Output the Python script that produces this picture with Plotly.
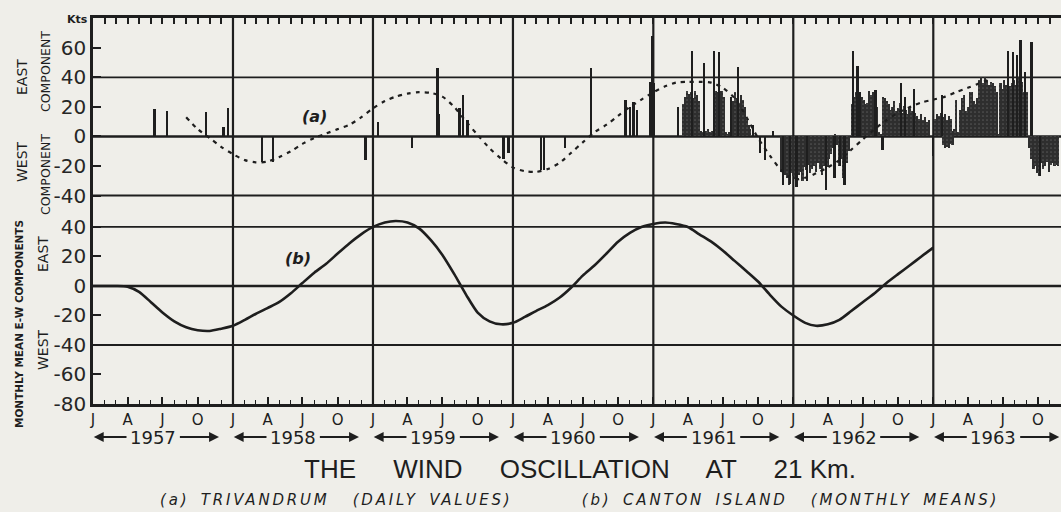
import pandas as pd
import plotly.graph_objects as go
from plotly.subplots import make_subplots

INK = "#1e1e1e"
BG = "#efeee9"

# ---------------- data ----------------
# (b) Canton Island monthly means (kts), monthly from Jan 1957
canton_start = "1957-01-01"
canton_kts = [0, 0, 0, -0.5, -4, -11, -18, -24, -28, -30, -30.5, -29,
              -27, -23, -19, -15, -11, -5, 2, 9, 15, 22, 29, 35,
              40, 43, 44, 43, 39, 31, 21, 8, -6, -18, -24, -26,
              -25, -21, -17, -13, -8, -1, 7, 14, 22, 30, 36, 40,
              42, 43, 42, 40, 35, 30, 24, 17, 10, 3, -6, -14,
              -20, -25, -27, -26, -23, -17, -11, -5, 2, 8, 14, 20,
              26]

# (a) smoothed Trivandrum curve (dashed), monthly from Sep 1957
trend_start = "1957-09-01"
trend_kts = [13, 5, -1, -7, -12, -16, -17.5, -17, -14, -10,
             -5, -1, 2, 5, 8, 13, 19, 24, 27, 29,
             30, 29.5, 27, 20, 10, 1, -8, -15, -21, -23.5,
             -24, -22, -18, -11, -4, 3, 8, 14, 20, 25,
             30, 34, 36.5, 37, 37, 36.5, 33, 26, 13, -1,
             -13, -23, -29, -28, -25, -21, -16, -9, -2, 5,
             11, 16, 20, 23, 25, 27, 30, 33, 36, 39]

# (a) Trivandrum daily values: isolated days
spike_dates = ["1957-06-11", "1957-07-14", "1957-10-23", "1957-12-08", "1957-12-19",
               "1958-03-18", "1958-04-15", "1958-12-13",
               "1959-01-15", "1959-04-13", "1959-06-19", "1959-06-22", "1959-08-15",
               "1959-08-25", "1959-09-05", "1959-12-08", "1959-12-21",
               "1960-03-15", "1960-03-23", "1960-05-16", "1960-07-23", "1960-10-21",
               "1960-11-01", "1960-11-11", "1960-11-20", "1960-12-25", "1960-12-30", "1961-01-03",
               "1961-03-07", "1961-04-13", "1961-05-14", "1961-06-08", "1961-06-21",
               "1961-07-24", "1961-08-10", "1961-09-19", "1961-10-06", "1961-10-19", "1961-11-10",
               "1961-12-06", "1961-12-24", "1962-01-10", "1962-02-06", "1962-03-28",
               "1962-04-19", "1962-05-04", "1962-05-15",
               "1962-06-07", "1962-06-18", "1962-06-24", "1962-08-04", "1962-08-22",
               "1962-10-09", "1962-10-19", "1962-11-12",
               "1963-01-01", "1963-01-25", "1963-07-16", "1963-07-29", "1963-08-07",
               "1963-08-17", "1963-08-28", "1963-09-15", "1963-10-06"]
spike_kts = [18.6, 17.6, 16.3, 6.3, 19,
             -17, -17, -16,
             10, -7.5, 46.4, 15, 19,
             28, 11, -15.4, -11,
             -22.5, -22.5, -8, 46.4, 25,
             20, 23.7, 18, 37, 68, 36,
             20, 57.6, 49.7, 58, 57,
             27, 47, 8, -11, -16, 3.4,
             -33, -32, -34, -30.5, -36.5,
             -28, -20, -33,
             57.6, 47.5, 30, 31.6, -9,
             36, 27, 32,
             -13.5, 28, 57.6, 57, 55,
             65.5, 44, 63.7, -27]

# (a) Trivandrum daily values: dense runs, one value per 5 days
run1961_start = "1961-03-20"
run1961_kts = [22, 27, 31, 29, 30, 26, 31, 28, 24, 4, 3, 5, 4, 5, 3, 4,
               29, 31, 30, 28, 31, 27, 3, 2, 3, 27, 24, 30, 26, 22, 28, 25, 20,
               12, 8, 5]
run1962w_start = "1961-12-01"
run1962w_kts = [-24, -30, -26, -28, -33, -25, -27, -29, -22, -26, -24, -30, -21, -23,
                -19, -25, -22, -20, -24, -18, -22, -26, -20, -17, -21, -15, -12, -8,
                2, -6, -20, -15, -28, -22, -18, -10]
run1962e_start = "1962-06-03"
run1962e_kts = [22, 27, 30, 26, 24, 27, 25, 22, 23, 31, 28, 30, 26, 20,
                3, 2, 27, 26,
                24, 22, 18, 20, 24, 17, 19, 23, 16, 21, 18, 15, 20, 17, 13, 16,
                14, 12, 15, 11, 13, 10, 11]
run1963e_start = "1963-01-06"
run1963e_kts = [12, 15, 14, 16, 13, 15, 11, 14, 12, 4, 5,
                25, 3, 18, 26, 28, 17, 20, 30, 30, 24, 22, 26, 38, 40, 36, 40,
                38, 35, 37, 36, 34, 30, 2,
                36, 32, 38, 35, 37, 34, 36, 38, 35, 33, 40, 37, 30, 25, 30]
run1963w_start = "1963-01-26"
run1963w_kts = [-6, -8, -7, -8, -5, -6]
run1963w2_start = "1963-09-09"
run1963w2_kts = [-8, -15, -22, -20, -25, -27, -18, -22, -20, -17, -24, -19, -18, -20, -19, -20]

years = [1957, 1958, 1959, 1960, 1961, 1962, 1963]
quarter_labels = ["J", "A", "J", "O"]

# ---------------- figure ----------------
DAY = 86400000
fig = make_subplots(rows=2, cols=1, shared_xaxes=True, vertical_spacing=0)

runs = [(run1961_start, run1961_kts), (run1962w_start, run1962w_kts),
        (run1962e_start, run1962e_kts), (run1963e_start, run1963e_kts),
        (run1963w_start, run1963w_kts), (run1963w2_start, run1963w2_kts)]
for start, vals in runs:
    xs = pd.date_range(start, periods=len(vals), freq="5D")
    fig.add_trace(go.Bar(x=xs, y=vals, width=[5.8 * DAY] * len(vals),
                         marker=dict(color="#333333", line=dict(width=0),
                                     pattern=dict(shape=".", fgcolor="#7a7a7a",
                                                  bgcolor="#2e2e2e", size=4, solidity=0.15)),
                         showlegend=False, hoverinfo="x+y"), row=1, col=1)

fig.add_trace(go.Bar(x=pd.to_datetime(spike_dates), y=spike_kts,
                     width=[4.5 * DAY] * len(spike_kts),
                     marker=dict(color=INK, line=dict(width=0)),
                     showlegend=False), row=1, col=1)

fig.add_trace(go.Scatter(x=pd.date_range(trend_start, periods=len(trend_kts), freq="MS"),
                         y=trend_kts, mode="lines",
                         line=dict(color=INK, width=2.2, dash="4px,5px", shape="spline", smoothing=0.8),
                         showlegend=False), row=1, col=1)

fig.add_trace(go.Scatter(x=pd.date_range(canton_start, periods=len(canton_kts), freq="MS"),
                         y=canton_kts, mode="lines",
                         line=dict(color=INK, width=2.6, shape="spline", smoothing=0.7),
                         showlegend=False), row=2, col=1)

fig.update_layout(barmode="overlay", bargap=0)

x_range = ["1957-01-01", "1963-11-30"]
months = pd.date_range("1957-01-01", "1963-11-01", freq="MS")
quarters = pd.date_range("1957-01-01", "1963-10-01", freq="QS-JAN")
qtext = [quarter_labels[i % 4] for i in range(len(quarters))]

fig.update_xaxes(range=x_range, showgrid=False, zeroline=False,
                 showline=True, linecolor=INK, linewidth=2.5)
fig.update_layout(
    xaxis=dict(side="top", ticks="inside", ticklen=6, tickwidth=1.5, tickcolor=INK,
               tickmode="array", tickvals=months, showticklabels=False),
    xaxis2=dict(ticks="inside", ticklen=7, tickwidth=1.5, tickcolor=INK,
                tickmode="array", tickvals=quarters, ticktext=qtext,
                tickfont=dict(family="DejaVu Sans", size=15, color=INK),
                minor=dict(ticks="inside", ticklen=4, tickwidth=1.2, tickcolor=INK,
                           tickmode="array", tickvals=months)),
)

ytick_font = dict(family="DejaVu Sans", size=20, color="#262626")
fig.update_yaxes(showgrid=False, zeroline=False, showline=True, linecolor=INK, linewidth=2.5,
                 ticks="inside", ticklen=8, tickwidth=1.5, tickcolor=INK, tickfont=ytick_font)
fig.update_layout(
    yaxis=dict(range=[-50.5, 80.3], tickmode="array", tickvals=[-40, -20, 0, 20, 40, 60],
               ticktext=["-40", "-20", "0", "20", "40", "60"]),
    yaxis2=dict(range=[-80, 50.8], tickmode="array", tickvals=[-80, -60, -40, -20, 0, 20, 40],
                ticktext=["-80", "-60", "-40", "-20", "0", "20", "40"]),
)

shapes = []
for yref in ["y", "y2"]:
    for v in [40, 0, -40]:
        shapes.append(dict(type="line", xref="paper", yref=yref, x0=0, x1=1, y0=v, y1=v,
                           line=dict(color=INK, width=2.4 if v == 0 else 1.8), layer="below"))
for yr in years[1:]:
    shapes.append(dict(type="line", xref="x2", yref="paper", x0=f"{yr}-01-01", x1=f"{yr}-01-01",
                       y0=0, y1=1, line=dict(color=INK, width=2.2), layer="below"))
fig.update_layout(shapes=shapes)

ann = []
def lab(text, x, y, size=13, angle=0, bold=False, italic=False, family="DejaVu Sans"):
    t = text
    if bold:
        t = f"<b>{t}</b>"
    if italic:
        t = f"<i>{t}</i>"
    ann.append(dict(text=t, x=x, y=y, xref="paper", yref="paper", showarrow=False,
                    textangle=angle, xanchor="center", yanchor="middle",
                    font=dict(family=family, size=size, color=INK)))

def px(x):
    return (x - 93) / 968.0

def py(y):
    return (404 - y) / 386.0

lab("Kts", px(77), py(19), size=11, bold=True)
lab("EAST", px(22), py(77), size=14, angle=-90)
lab("COMPONENT", px(45), py(72), size=12.5, angle=-90)
lab("WEST", px(22), py(162), size=14, angle=-90)
lab("COMPONENT", px(45), py(175), size=12.5, angle=-90)
lab("MONTHLY MEAN E-W COMPONENTS", px(19), py(324), size=10.5, angle=-90, bold=True)
lab("EAST", px(43), py(254), size=14, angle=-90)
lab("WEST", px(43), py(350), size=14, angle=-90)
lab("(a)", px(314), py(116), size=16, bold=True, italic=True)
lab("(b)", px(298), py(258), size=16, bold=True, italic=True)

# year labels with arrows
yl = py(437)
for yr in years:
    y0 = pd.Timestamp(f"{yr}-01-01")
    c = y0 + pd.Timedelta(days=0.43 * 365)
    ann.append(dict(text=str(yr), x=c, y=yl, xref="x2", yref="paper", showarrow=False,
                    xanchor="center", yanchor="middle",
                    font=dict(family="DejaVu Sans", size=18, color=INK)))
    for head, tail in [(y0 + pd.Timedelta(days=2), c - pd.Timedelta(days=0.18 * 365)),
                       (y0 + pd.Timedelta(days=0.9 * 365), c + pd.Timedelta(days=0.18 * 365))]:
        ann.append(dict(text="", x=head, y=yl, xref="x2", yref="paper",
                        ax=tail, ay=0, axref="x2", ayref="pixel",
                        showarrow=True, arrowhead=2, arrowsize=1.1, arrowwidth=1.8,
                        arrowcolor=INK, standoff=0, startstandoff=0))

ann.append(dict(text='<span style="word-spacing:30px">THE WIND OSCILLATION AT 21</span> Km.',
                x=px(580), y=py(469), xref="paper", yref="paper", showarrow=False,
                xanchor="center", yanchor="middle",
                font=dict(family="Liberation Sans", size=26, color=INK)))
ann.append(dict(text='<i><span style="letter-spacing:2.8px;word-spacing:4px">(a) TRIVANDRUM  (DAILY VALUES)      (b) CANTON ISLAND  (MONTHLY MEANS)</span></i>',
                x=px(579), y=py(500), xref="paper", yref="paper", showarrow=False,
                xanchor="center", yanchor="middle",
                font=dict(family="DejaVu Sans", size=15, color=INK)))
fig.update_layout(annotations=ann)

fig.update_layout(width=1061, height=512, margin=dict(l=93, r=0, t=18, b=108),
                  paper_bgcolor=BG, plot_bgcolor=BG, showlegend=False)

fig.write_html("out.html", config={"displayModeBar": False},
               post_script="document.body.style.margin='0';document.body.style.background='" + BG + "';")
